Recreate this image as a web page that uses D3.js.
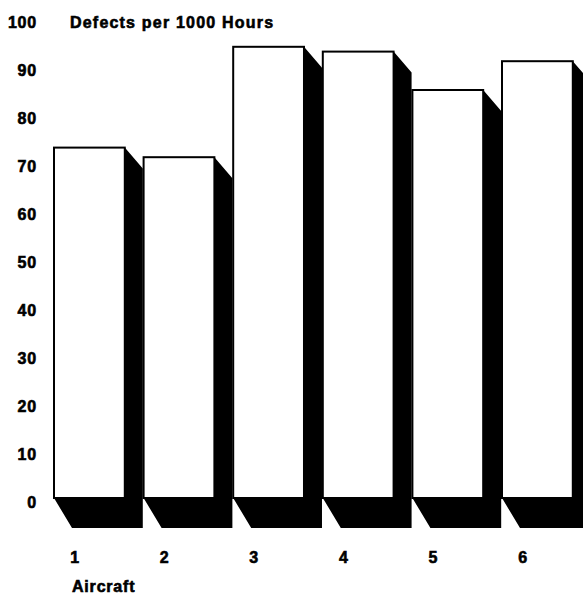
<!DOCTYPE html>
<html>
<head>
<meta charset="utf-8">
<script src="https://cdn.jsdelivr.net/npm/d3@7"></script>
<style>
  html, body { margin: 0; padding: 0; background: #fff; }
  svg { display: block; }
  text { font-family: "Liberation Sans", Arial, Helvetica, sans-serif; font-weight: bold; font-size: 16px; fill: #000; stroke: #000; stroke-width: 0.6px; letter-spacing: 0.8px; }
  text.title { letter-spacing: 1.2px; }
</style>
</head>
<body>
<svg id="chart" width="583" height="595"></svg>
<script>
// Defect rates per aircraft
const aircraft = ["1", "2", "3", "4", "5", "6"];
const defects = [73, 71, 94, 93, 85, 91];
const yTicks = [0, 10, 20, 30, 40, 50, 60, 70, 80, 90, 100];
const yTitle = "Defects per 1000 Hours";
const xTitle = "Aircraft";

const svg = d3.select("#chart");

const y = d3.scaleLinear().domain([0, 100]).range([498, 18]);
const step = 89.6;
const x = d3.scaleBand()
  .domain(aircraft)
  .range([54, 54 + step * aircraft.length])
  .paddingInner(0.21)
  .paddingOuter(0.105)
  .align(0);

// extrusion of the solid shadow behind each bar
const depthX = 18, depthTop = 21, depthBottom = 30;

const bars = svg.append("g").selectAll("g")
  .data(aircraft.map((a, i) => ({ a, v: defects[i] })))
  .join("g");

bars.append("path")
  .attr("fill", "#000")
  .attr("d", d => {
    const x0 = x(d.a), x1 = x0 + x.bandwidth();
    const yt = y(d.v), yb = y(0);
    return `M${x1},${yt} L${x1 + depthX},${yt + depthTop} L${x1 + depthX},${yb + depthBottom} ` +
           `L${x0 + depthX},${yb + depthBottom} L${x0},${yb} L${x1},${yb} Z`;
  });

bars.append("rect")
  .attr("x", d => x(d.a))
  .attr("y", d => y(d.v))
  .attr("width", x.bandwidth())
  .attr("height", d => y(0) - y(d.v))
  .attr("fill", "#fff")
  .attr("stroke", "#000")
  .attr("stroke-width", 2);

// value axis labels
svg.append("g").selectAll("text")
  .data(yTicks)
  .join("text")
  .attr("x", 37)
  .attr("y", d => y(d) + 10)
  .attr("text-anchor", "end")
  .text(d => d);

svg.append("text")
  .attr("class", "title")
  .attr("x", 70)
  .attr("y", y(100) + 10)
  .text(yTitle);

// category labels
svg.append("g").selectAll("text")
  .data(aircraft)
  .join("text")
  .attr("x", d => x(d) + 21)
  .attr("y", 563)
  .attr("text-anchor", "middle")
  .text(d => d);

svg.append("text")
  .attr("x", 72)
  .attr("y", 592)
  .text(xTitle);
</script>
</body>
</html>
